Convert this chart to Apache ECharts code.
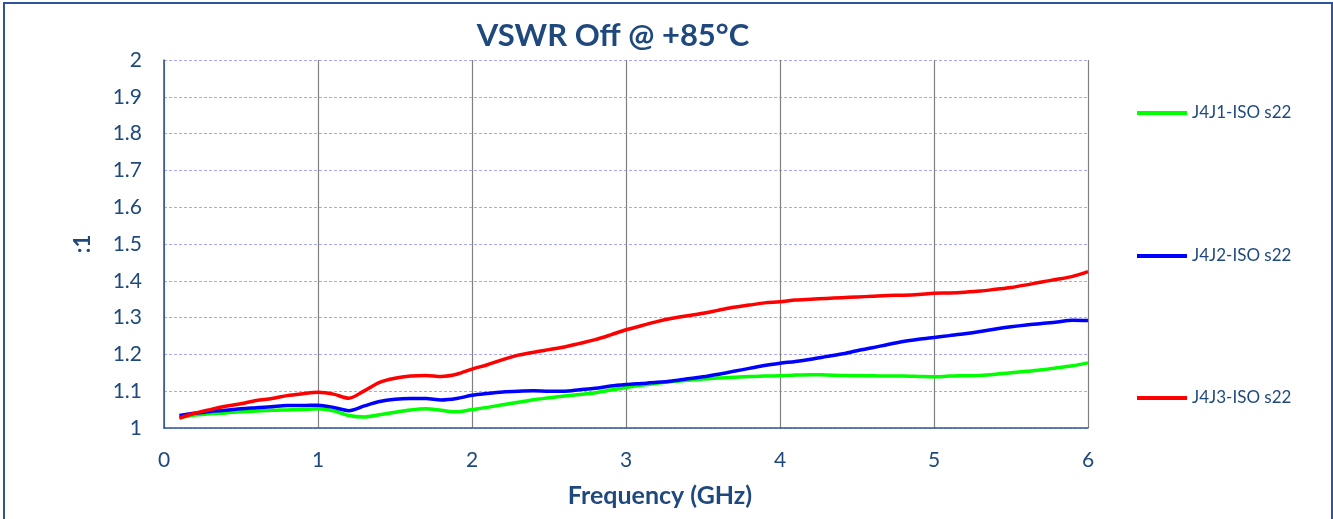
<!DOCTYPE html>
<html>
<head>
<meta charset="utf-8">
<script src="https://cdn.jsdelivr.net/npm/echarts@6/dist/echarts.min.js"></script>
<style>
html,body{margin:0;padding:0;background:#fff;}
#chart{width:1333px;height:519px;}
</style>
</head>
<body>
<div id="chart"></div>
<script>
const freqGHz = [0.1,0.2,0.3,0.4,0.5,0.6,0.7,0.8,0.9,1.0,1.1,1.2,1.3,1.4,1.5,1.6,1.7,1.8,1.9,2.0,2.1,2.2,2.3,2.4,2.5,2.6,2.7,2.8,2.9,3.0,3.1,3.2,3.3,3.4,3.5,3.6,3.7,3.8,3.9,4.0,4.1,4.2,4.3,4.4,4.5,4.6,4.7,4.8,4.9,5.0,5.1,5.2,5.3,5.4,5.5,5.6,5.7,5.8,5.9,6.0];

const j4j1 = [1.028,1.035,1.039,1.041,1.044,1.046,1.048,1.049,1.050,1.052,1.047,1.034,1.030,1.036,1.043,1.049,1.052,1.048,1.044,1.050,1.056,1.063,1.070,1.077,1.082,1.087,1.091,1.096,1.103,1.110,1.116,1.121,1.126,1.130,1.133,1.136,1.138,1.140,1.141,1.142,1.144,1.145,1.144,1.143,1.142,1.142,1.141,1.141,1.140,1.139,1.141,1.142,1.143,1.146,1.150,1.154,1.158,1.164,1.169,1.177];

const j4j2 = [1.034,1.040,1.045,1.048,1.052,1.055,1.058,1.061,1.061,1.062,1.056,1.047,1.060,1.072,1.078,1.080,1.080,1.076,1.080,1.089,1.094,1.098,1.100,1.101,1.100,1.100,1.104,1.108,1.114,1.118,1.121,1.124,1.128,1.134,1.139,1.146,1.154,1.162,1.170,1.176,1.181,1.187,1.194,1.201,1.210,1.218,1.227,1.235,1.241,1.246,1.251,1.256,1.262,1.269,1.275,1.280,1.284,1.288,1.293,1.292];

const j4j3 = [1.027,1.040,1.050,1.059,1.066,1.075,1.080,1.088,1.093,1.097,1.092,1.081,1.101,1.124,1.135,1.141,1.143,1.140,1.146,1.160,1.172,1.186,1.198,1.206,1.213,1.220,1.230,1.240,1.253,1.267,1.278,1.289,1.298,1.305,1.312,1.320,1.328,1.334,1.340,1.343,1.348,1.350,1.352,1.354,1.356,1.358,1.360,1.361,1.363,1.366,1.367,1.369,1.372,1.377,1.382,1.389,1.397,1.404,1.412,1.425];

const seriesNames = ['J4J1-ISO s22','J4J2-ISO s22','J4J3-ISO s22'];
const seriesColors = ['#00FF00','#0000FF','#FF0000'];
const seriesValues = [j4j1, j4j2, j4j3];

const textColor = '#1F497D';
const font = 'Lato, "Open Sans", sans-serif';

const chart = echarts.init(document.getElementById('chart'), null, {renderer:'canvas'});

const legendCenters = [111, 254, 396];

const option = {
  animation: false,
  backgroundColor: '#ffffff',
  title: {
    text: 'VSWR Off @ +85°C',
    left: 608, top: 15, textAlign: 'center',
    textStyle: {color: textColor, fontFamily: font, fontWeight: 'bold', fontSize: 31}
  },
  graphic: [{
    type: 'rect', silent: true, z: 100,
    shape: {x: 4, y: 3, width: 1328, height: 530},
    style: {fill: 'none', stroke: '#2F5597', lineWidth: 2}
  }],
  legend: seriesNames.map((n, i) => ({
    data: [{name: n}],
    left: 1137, top: legendCenters[i] - 9, padding: 0,
    icon: 'rect', itemWidth: 50, itemHeight: 4, itemGap: 4,
    textStyle: {color: textColor, fontFamily: font, fontSize: 17, lineHeight: 22, padding: [0,0,0,0]}
  })),
  grid: {left: 164, right: 245, top: 60, bottom: 91, containLabel: false},
  xAxis: {
    type: 'value', min: 0, max: 6, interval: 1,
    name: 'Frequency (GHz)', nameLocation: 'middle', nameGap: 55,
    nameTextStyle: {color: textColor, fontFamily: font, fontWeight: 'bold', fontSize: 25, padding: [0,0,0,68]},
    axisLine: {show: true, onZero: false, lineStyle: {color: '#2F5597', width: 1.5}},
    axisTick: {show: false},
    axisLabel: {color: textColor, fontFamily: font, fontSize: 21, margin: 22},
    splitLine: {show: true, lineStyle: {color: '#808080', width: 1.2}}
  },
  yAxis: {
    type: 'value', min: 1, max: 2, interval: 0.1,
    name: ':1', nameLocation: 'middle', nameGap: 70, nameRotate: 90,
    nameTextStyle: {color: textColor, fontFamily: font, fontWeight: 'bold', fontSize: 22},
    axisLine: {show: true, lineStyle: {color: '#2F5597', width: 1.5}},
    axisTick: {show: false},
    axisLabel: {color: textColor, fontFamily: font, fontSize: 21, margin: 22,
      formatter: v => String(parseFloat(v.toFixed(1)))},
    splitLine: {show: true, lineStyle: {color: '#A8A8F8', width: 1, type: [3, 2]}}
  },
  series: seriesNames.map((n, i) => ({
    name: n, type: 'line', smooth: 0.3, showSymbol: false, symbol: 'none',
    color: seriesColors[i],
    lineStyle: {color: seriesColors[i], width: 3.5},
    data: freqGHz.map((f, k) => [f, seriesValues[i][k]])
  }))
};
chart.setOption(option);
</script>
</body>
</html>
